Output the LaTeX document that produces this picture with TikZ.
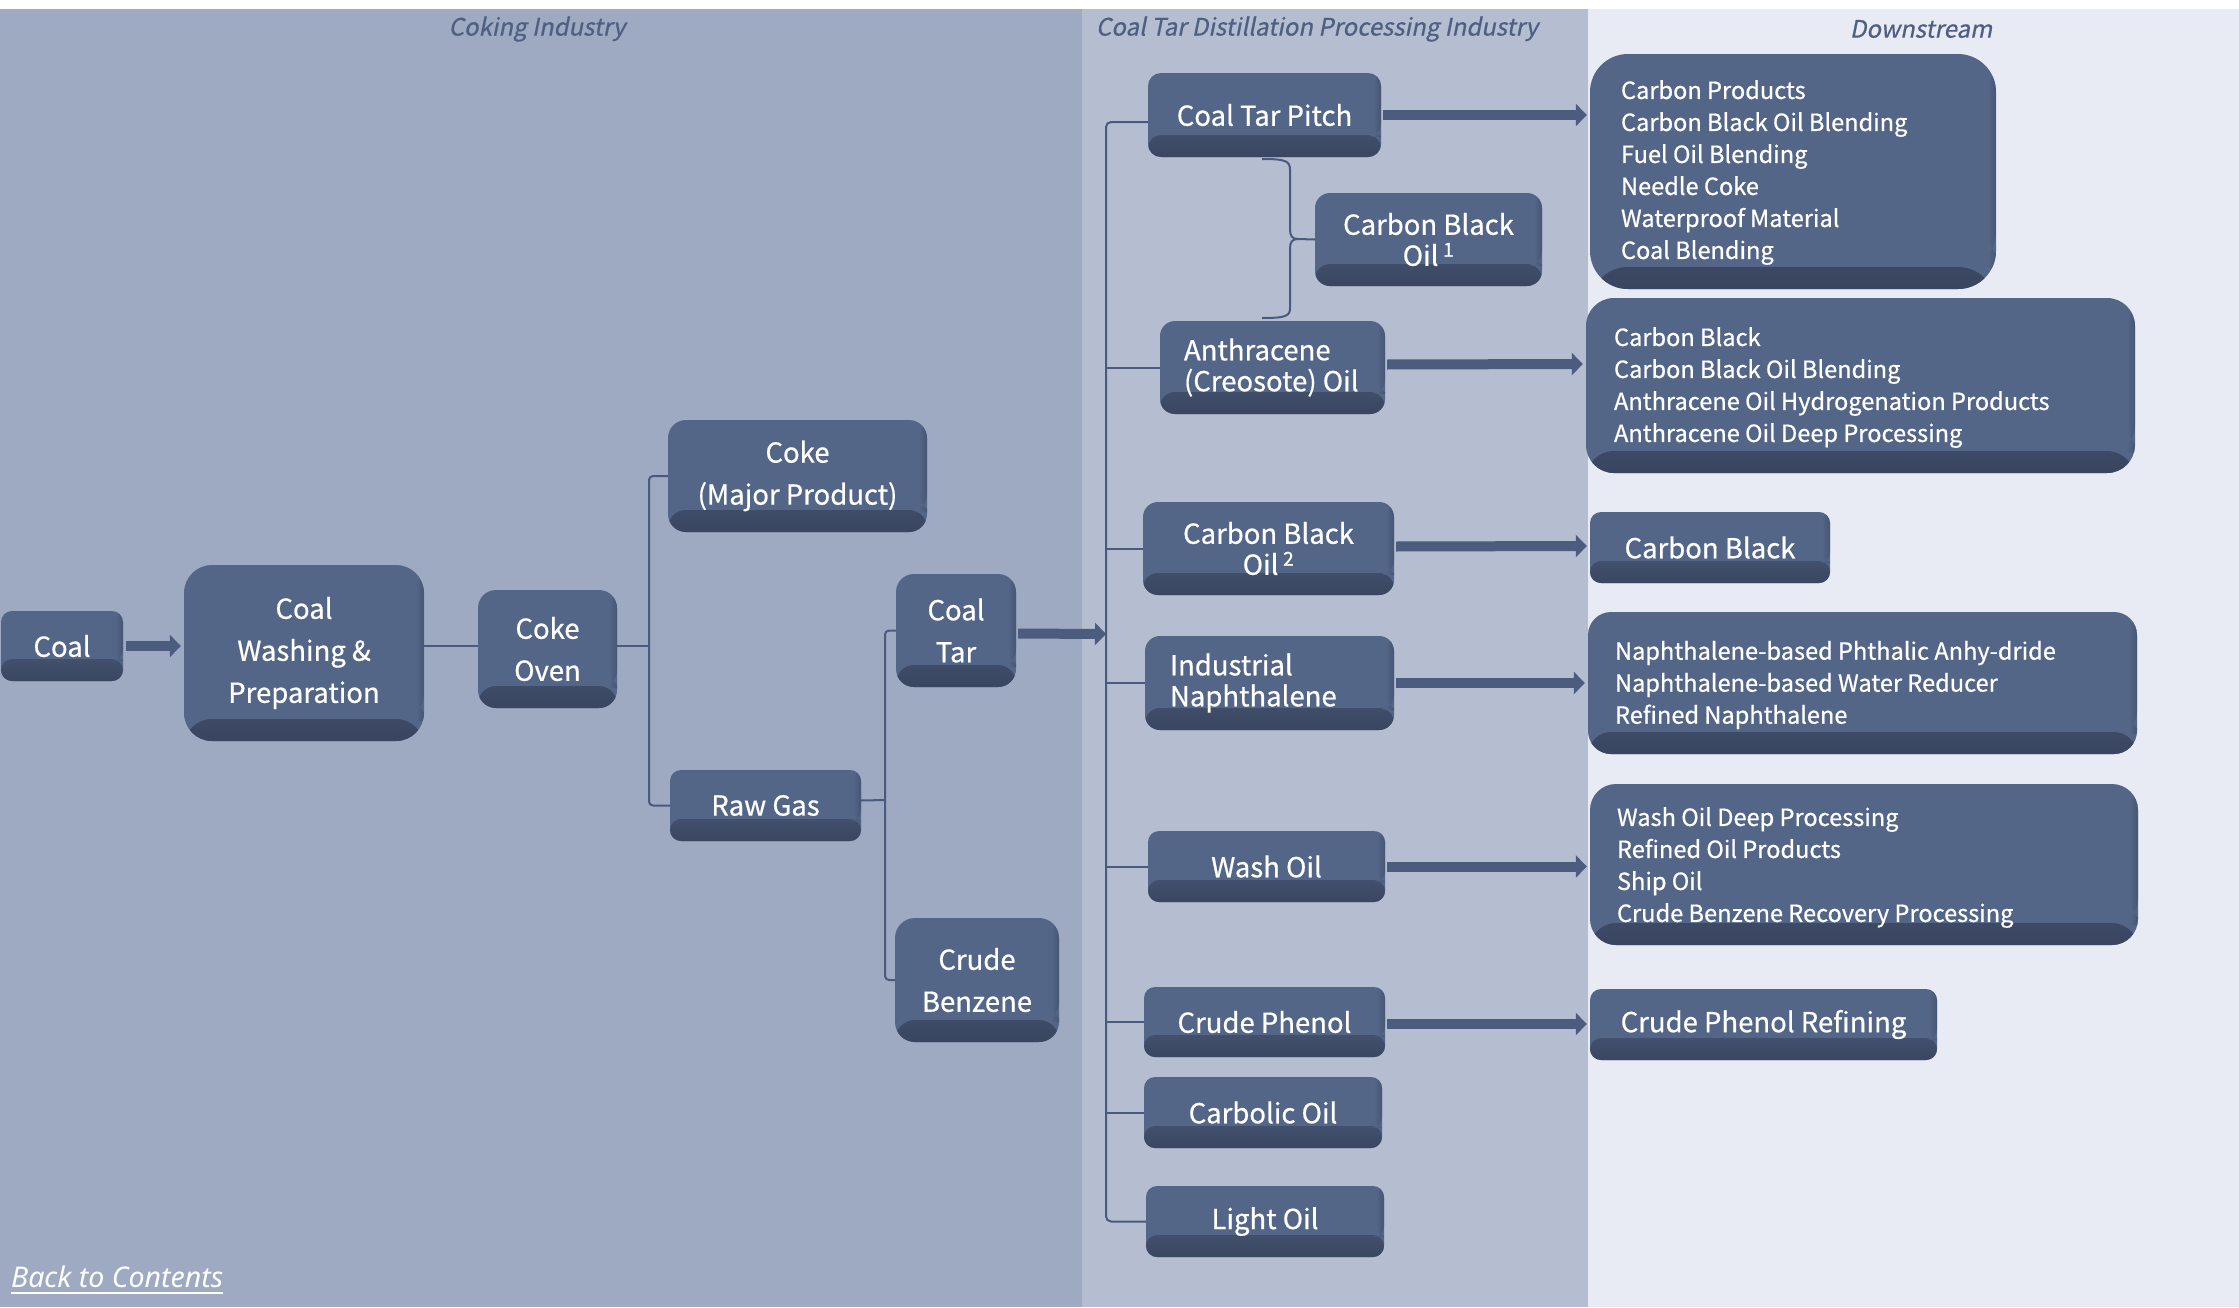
\documentclass[tikz,border=0pt]{standalone}
\usepackage{fontspec}
\setmainfont{Noto Sans CJK SC}[FakeBold=0.6]
\newfontfamily\hdrfont[FakeSlant=0.2,FakeBold=0.6]{Noto Sans CJK SC}
\newfontfamily\notofont{Noto Sans}
\usetikzlibrary{arrows.meta,calc}
\definecolor{pA}{HTML}{9DAAC2}
\definecolor{pB}{HTML}{B5BDD1}
\definecolor{pC}{HTML}{E8EBF3}
\definecolor{boxc}{HTML}{546688}
\definecolor{boxdark}{HTML}{39455F}
\definecolor{linec}{HTML}{4A5A7E}
\definecolor{arrowc}{HTML}{4C5C7E}
\definecolor{hdrc}{HTML}{4F5F82}
\tikzset{
  box/.style={fill=boxc, text=white, inner sep=0pt, align=center,
    font=\fontsize{27.5}{42}\selectfont,
    path picture={
      \shade[top color=boxc, bottom color=boxdark]
        ([yshift=22pt]path picture bounding box.south west) rectangle ([yshift=-3pt]path picture bounding box.south east);
      \shade[left color=boxc, right color=boxdark, opacity=0.5]
        ([xshift=-8pt]path picture bounding box.north east) rectangle ([yshift=20pt]path picture bounding box.south east);
    }},
  tight/.style={font=\fontsize{27.5}{31}\selectfont},
  txt/.style={text=white, inner sep=0pt, align=left, anchor=west},
  listtxt/.style={txt, font=\fontsize{23.6}{32}\selectfont},
  conn/.style={draw=linec, line width=2pt},
  fat/.style={draw=arrowc, line width=10pt, -{Triangle[length=11pt,width=22pt]}},
  hdr/.style={text=hdrc, inner sep=0pt, font=\hdrfont\fontsize{24}{28}\selectfont},
}
\newcommand\mkbox[8][]{%
  \node[box, rounded corners=#7pt, minimum width={(#5-#3)*1pt}, minimum height={(#6-#4)*1pt}, #1]
    (#2) at ({(#3+#5)/2},{(#4+#6)/2}) {#8};}
\begin{document}
\begin{tikzpicture}[x=1pt,y=-1pt]
\useasboundingbox (0,0) rectangle (2239,1307);
% panels
\fill[white] (0,0) rectangle (2239,1307);
\fill[pA] (0,9) rectangle (1082,1307);
\fill[pB] (1082,9) rectangle (1588,1307);
\fill[pC] (1588,9) rectangle (2239,1307);
% headers
\node[hdr] (h1) at (537,29) {Coking Industry};
\node[hdr] (h2) at (1317,29) {Coal Tar Distillation Processing Industry};
\node[hdr] (h3) at (1921,29) {Downstream};
% coking industry
\mkbox{coal}{1}{611}{123}{681}{11}{Coal}
\mkbox{wash}{184}{565}{424}{741}{28}{Coal\\Washing \&\\Preparation}
\mkbox{oven}{478}{590}{617}{708}{18}{Coke\\Oven}
\mkbox{coke}{668}{420}{927}{532}{18}{Coke\\(Major Product)}
\mkbox{gas}{670}{770}{861}{841}{11}{Raw Gas}
\mkbox{tar}{896}{574}{1016}{687}{18}{Coal\\Tar}
\mkbox{benz}{895}{918}{1059}{1042}{20}{Crude\\Benzene}
% coal tar distillation
\mkbox{pitch}{1148}{73}{1381}{157}{13}{Coal Tar Pitch}
\mkbox[tight]{cbo1}{1315}{193}{1542}{286}{15}{Carbon Black\\Oil\,\textsuperscript{1}}
\mkbox{anth}{1160}{321}{1385}{414}{15}{}
\node[txt, tight] (anth-t) at ($(anth.west)+(24,0)$) {Anthracene\\(Creosote) Oil};
\mkbox[tight]{cbo2}{1143}{502}{1394}{595}{15}{Carbon Black\\Oil\,\textsuperscript{2}}
\mkbox{naph}{1145}{636}{1394}{730}{15}{}
\node[txt, tight] (naph-t) at ($(naph.west)+(25,0)$) {Industrial\\Naphthalene};
\mkbox{washoil}{1148}{831}{1385}{902}{11}{Wash Oil}
\mkbox{phenol}{1144}{987}{1385}{1057}{11}{Crude Phenol}
\mkbox{carbolic}{1144}{1077}{1382}{1148}{11}{Carbolic Oil}
\mkbox{light}{1146}{1186}{1384}{1257}{11}{Light Oil}
% downstream
\mkbox{ds1}{1590}{54}{1996}{289}{38}{}
\node[listtxt] (ds1-t) at ($(ds1.west)+(31,1)$) {Carbon Products\\Carbon Black Oil Blending\\Fuel Oil Blending\\Needle Coke\\Waterproof Material\\Coal Blending};
\mkbox{ds2}{1586}{298}{2135}{473}{28}{}
\node[listtxt] (ds2-t) at ($(ds2.west)+(28,2)$) {Carbon Black\\Carbon Black Oil Blending\\Anthracene Oil Hydrogenation Products\\Anthracene Oil Deep Processing};
\mkbox{dscb}{1590}{512}{1830}{583}{11}{Carbon Black}
\mkbox{dsnaph}{1588}{612}{2137}{754}{23}{}
\node[listtxt] (dsnaph-t) at ($(dsnaph.west)+(27,2)$) {Naphthalene-based Phthalic Anhy-dride\\Naphthalene-based Water Reducer\\Refined Naphthalene};
\mkbox{dswash}{1590}{784}{2138}{945}{26}{}
\node[listtxt] (dswash-t) at ($(dswash.west)+(27,3)$) {Wash Oil Deep Processing\\Refined Oil Products\\Ship Oil\\Crude Benzene Recovery Processing};
\mkbox{dsphen}{1590}{989}{1937}{1060}{11}{Crude Phenol Refining}
% junction coordinates
\coordinate (j1) at (649,0);
\coordinate (j2) at (885,0);
\coordinate (tx) at (1106,0);
% coking connectors
\draw[fat, shorten <=3pt, shorten >=3pt] (coal.east) -- (coal.east -| wash.west);
\draw[conn] (oven.west) ++(0,-3) -- ++(-54,0);
\draw[conn] (oven.east) ++(0,-3) -- (j1 |- 0,646);
\draw[conn, rounded corners=4pt] (coke.west) -| (j1 |- gas.west) -- (gas.west);
\draw[conn] (gas.east) ++(0,-5) -- (j2 |- 0,800);
\draw[conn, rounded corners=4pt] (tar.west) -| (j2 |- benz.west) -- (benz.west);
\draw[fat, shorten <=2pt] (tar.east) ++(0,3) -- (tx |- 0,634);
% coal tar trunk
\draw[conn, rounded corners=5pt] ([yshift=-7pt]pitch.west) -| (tx |- light.west) -- (light.west);
\foreach \n in {anth,cbo2,naph,washoil,phenol,carbolic}
  \draw[conn] (tx |- \n.west) -- (\n.west);
% brace
\draw[conn] (1262,159) .. controls (1286,159) and (1290,161) .. (1290,170) -- (1290,229)
  .. controls (1290,236) and (1292,239) .. (1298,239) -- (cbo1.west);
\draw[conn] (1298,239) .. controls (1292,239) and (1290,242) .. (1290,249) -- (1290,308)
  .. controls (1290,316) and (1286,318) .. (1262,318);
% arrows to downstream
\draw[fat, shorten <=2pt, shorten >=3pt] (pitch.east) -- (pitch.east -| ds1.west);
\draw[fat, shorten <=2pt, shorten >=3pt] (anth.east) ++(0,-3) -- (ds2.west |- 0,364);
\draw[fat, shorten <=2pt, shorten >=3pt] (cbo2.east) ++(0,-2) -- (dscb.west |- 0,546);
\draw[fat, shorten <=2pt, shorten >=3pt] (naph.east) -- (naph.east -| dsnaph.west);
\draw[fat, shorten <=2pt, shorten >=3pt] (washoil.east) -- (washoil.east -| dswash.west);
\draw[fat, shorten <=2pt, shorten >=3pt] (phenol.east) ++(0,2) -- (dsphen.west |- 0,1024);
% back link
\node[anchor=base west, inner sep=0pt, text=white, font=\notofont\itshape\fontsize{28.5}{32}\selectfont] (back) at (11,1287) {Back to Contents};
\draw[white, line width=2pt] ([yshift=-6pt]back.base west) -- ([yshift=-6pt]back.base east);
\end{tikzpicture}
\end{document}
